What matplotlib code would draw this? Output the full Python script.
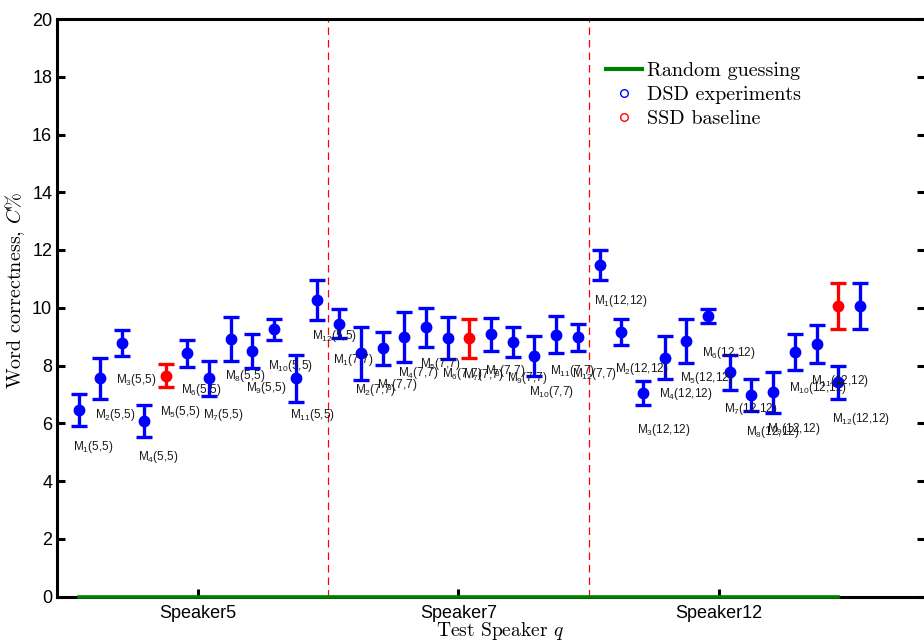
import matplotlib
matplotlib.use('Agg')
import matplotlib.pyplot as plt
from matplotlib.lines import Line2D

# ---------------- data ----------------
speakers = ['Speaker5', 'Speaker7', 'Speaker12']
speaker_ids = [5, 7, 12]

# DSD experiments (None = position taken by the SSD baseline)
g1_mean = [6.46, 7.55, 8.78, 6.08, None, 8.42, 7.55, 8.91, 8.50, 9.25, 7.55, 10.28]
g1_err = [0.57, 0.72, 0.45, 0.55, None, 0.46, 0.60, 0.76, 0.58, 0.37, 0.83, 0.69]
g2_mean = [9.45, 8.42, 8.59, 8.99, 9.32, 8.96, None, 9.08, 8.82, 8.34, 9.07, 8.97]
g2_err = [0.50, 0.91, 0.56, 0.86, 0.68, 0.72, None, 0.58, 0.53, 0.69, 0.63, 0.48]
g3_mean = [11.49, 9.16, 7.04, 8.27, 8.84, 9.71, 7.76, 6.98, 7.07, 8.47, 8.73, 7.42, 10.05]
g3_err = [0.52, 0.44, 0.42, 0.75, 0.76, 0.23, 0.62, 0.55, 0.70, 0.62, 0.66, 0.57, 0.80]

# SSD baseline: position within group, mean, error
ssd_pos = [5, 7, 12]
ssd_mean = [7.64, 8.94, 10.05]
ssd_err = [0.40, 0.67, 0.80]

n_models = 12
random_guess = 0.0

# ---------------- figure ----------------
plt.rcParams['mathtext.fontset'] = 'cm'
SANS = 'Liberation Sans'
SERIF = 'cmr10'

fig = plt.figure(figsize=(9.24, 6.41), dpi=100)
ax = fig.add_axes([57/924, (641-596.5)/641, (925-57)/924, (596.5-19)/641])

groups_mean = [g1_mean, g2_mean, g3_mean]
groups_err = [g1_err, g2_err, g3_err]

bx, by, be = [], [], []
for g, (means, errs) in enumerate(zip(groups_mean, groups_err)):
    for p, (m, e) in enumerate(zip(means, errs), start=1):
        if m is None:
            continue
        bx.append(n_models * g + p)
        by.append(m)
        be.append(e)

rx = [n_models * g + p for g, p in enumerate(ssd_pos)]

eb_kw = dict(fmt='o', ms=7.5, elinewidth=2.4, capsize=6.0, capthick=2.4)
ax.errorbar(bx, by, yerr=be, color='blue', zorder=3, **eb_kw)
ax.errorbar(rx, ssd_mean, yerr=ssd_err, color='red', zorder=4, **eb_kw)

# labels M_i(s,s)
for g, means in enumerate(groups_mean):
    sid = speaker_ids[g]
    for p in range(1, n_models + 1):
        m = means[p - 1]
        if m is None:
            m = ssd_mean[g]
        x = n_models * g + p
        ax.text(x - 0.27, m - 1.37, r'$\mathregular{M_{%d}(%d{,}%d)}$' % (p, sid, sid),
                fontsize=8.5, family=SANS, color='#1a1a1a', ha='left', va='baseline', zorder=5)

# separators
for b in [n_models + 0.5, 2 * n_models + 0.5]:
    ax.axvline(b, color='red', ls=(0, (6, 4)), lw=0.9, zorder=1)

# random guessing
ax.plot([1, 3 * n_models], [random_guess, random_guess], color='#008000', lw=2.6,
        clip_on=False, zorder=6)

ax.set_xlim(0, 40)
ax.set_ylim(0, 20)
ax.set_yticks(range(0, 21, 2))
ax.set_xticks([n_models * g + (n_models + 1) / 2 for g in range(3)])
ax.set_xticklabels(speakers)

for s in ax.spines.values():
    s.set_linewidth(2.2)
ax.tick_params(axis='both', direction='in', length=6, width=2.2, labelsize=13)
ax.tick_params(axis='y', right=True, pad=3.5)
ax.tick_params(axis='x', pad=6)
for lab in ax.get_xticklabels() + ax.get_yticklabels():
    lab.set_family(SANS)

ax.set_xlabel(r'Test Speaker $q$', family=SERIF, fontsize=14)
ax.xaxis.set_label_coords(0.51, -0.040)
ax.set_ylabel(r'Word correctness, $C\%$', family=SERIF, fontsize=14.5)
ax.yaxis.set_label_coords(-0.035, 0.53)

handles = [
    Line2D([], [], color='#008000', lw=3),
    Line2D([], [], marker='o', ls='none', mfc='none', mec='blue', ms=5.5, mew=1),
    Line2D([], [], marker='o', ls='none', mfc='none', mec='red', ms=5.5, mew=1),
]
leg = ax.legend(handles, ['Random guessing', 'DSD experiments', 'SSD baseline'],
                loc='upper left', bbox_to_anchor=((606-57)/868, (596.5-62)/577.5),
                frameon=False, borderpad=0, borderaxespad=0, handlelength=1.8,
                handletextpad=0.25, labelspacing=0.3,
                prop={'family': SERIF, 'size': 14.5})

fig.savefig('out.png', dpi=100)
